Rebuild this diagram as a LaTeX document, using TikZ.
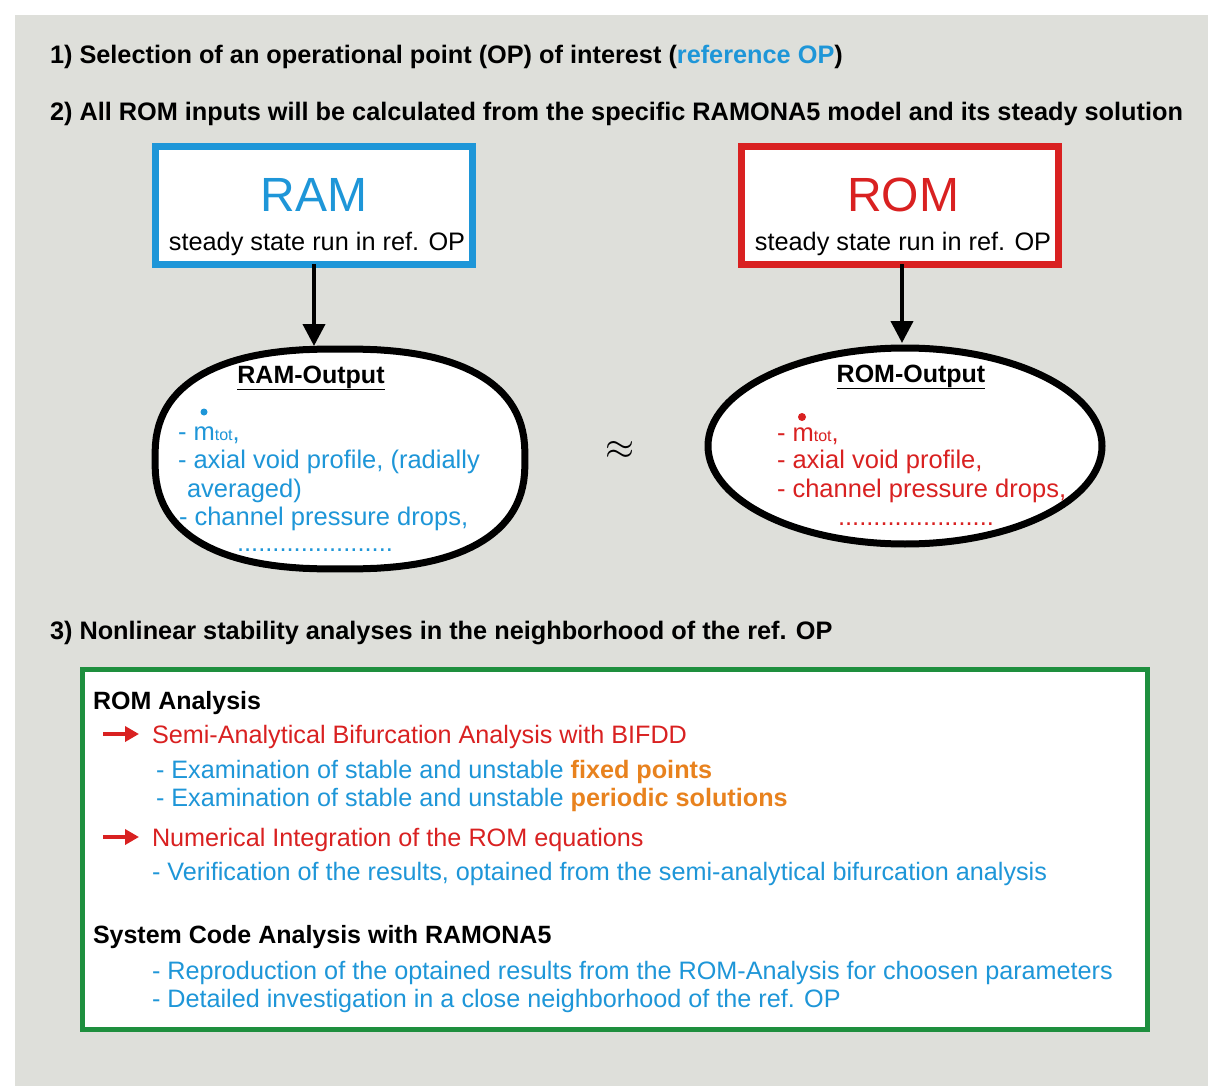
\documentclass[tikz,border=0pt]{standalone}
\usepackage{fontspec}
\setmainfont{Liberation Sans}
\usetikzlibrary{arrows.meta,shapes.geometric}
\definecolor{ramblue}{HTML}{1E96D8}
\definecolor{romred}{HTML}{D92121}
\definecolor{hlorange}{HTML}{E8821E}
\definecolor{boxgreen}{HTML}{1E8F3E}
\definecolor{panelgray}{HTML}{DEDFDA}
\newcommand{\fsz}[1]{\fontsize{#1}{#1}\selectfont}

\begin{document}
\begin{tikzpicture}[x=1pt,y=-1pt,
    every node/.style={inner sep=0pt,outer sep=0pt},
    heading/.style={anchor=base west,font=\fsz{25.3}\bfseries},
    codebox/.style={draw,line width=7pt,fill=white,minimum width=317pt,minimum height=118pt},
    outell/.style={ellipse,draw=black,line width=7pt,fill=white},
    outtxt/.style={anchor=base west,font=\fsz{25.5}},
    bodytxt/.style={anchor=base west,font=\fsz{25.2}},
    bullet/.style={romred,line width=3.5pt,-{Triangle[length=14pt,width=15pt]}}]
  \useasboundingbox (0,0) rectangle (1208,1086);
  \fill[panelgray] (15,15) rectangle (1208,1086);

  % steps
  \node[heading] (stepone) at (50,64) {1) Selection of an operational point (OP) of interest (\textcolor{ramblue}{reference OP})};
  \node[heading] (steptwo) at (50,121) {2) All ROM inputs will be calculated from the specific RAMONA5 model and its steady solution};
  \node[heading] (stepthree) at (50,639) {3) Nonlinear stability analyses in the neighborhood of the ref. OP};

  % code boxes
  \node[codebox,draw=ramblue] (rambox) at (314,205.5) {};
  \node[anchor=base,font=\fsz{48},ramblue] (ramtitle) at (314,212) {RAM};
  \node[anchor=base,font=\fsz{25.3}] (ramsub) at (317,251) {steady state run in ref. OP};
  \node[codebox,draw=romred] (rombox) at (900,205.5) {};
  \node[anchor=base,font=\fsz{48},romred] (romtitle) at (903,212) {ROM};
  \node[anchor=base,font=\fsz{25.3}] (romsub) at (903,251) {steady state run in ref. OP};

  % outputs (RAM one is a bit fuller than an ellipse)
  \draw[line width=7pt,fill=white] plot[domain=1.5:358.5,samples=120]
    ({340+185*sign(cos(\x))*abs(cos(\x))^0.8},{459+110*sign(sin(\x))*abs(sin(\x))^0.8}) -- cycle;
  \coordinate (ramtop) at (314,346);
  \node[outell,minimum width=394pt,minimum height=196pt] (romout) at (905,446) {};
  \draw[line width=4pt,-{Triangle[length=22pt,width=22pt]}] (rambox.south) -- (ramtop);
  \draw[line width=4pt,-{Triangle[length=22pt,width=22pt]}] (rombox.south -| 902,0) -- (902,343);

  \node[anchor=base,font=\fsz{25}\bfseries] (ramhead) at (311,383) {\underline{RAM-Output}};
  \node[outtxt,ramblue] (ramone) at (178,440) {- m{\fsz{16}tot},};
  \fill[ramblue] (204,412) circle (3.5pt);
  \node[outtxt,ramblue] (ramtwo) at (178,468) {- axial void profile, (radially};
  \node[outtxt,ramblue] (ramthree) at (187,497) {averaged)};
  \node[outtxt,ramblue] (ramfour) at (179,525) {- channel pressure drops,};
  \node[outtxt,ramblue] (ramdots) at (237,551) {......................};

  \node[anchor=base,font=\fsz{25}\bfseries] (romhead) at (911,382) {\underline{ROM-Output}};
  \node[outtxt,romred] (romone) at (777,441) {- m{\fsz{16}tot},};
  \fill[romred] (802,417) circle (4pt);
  \node[outtxt,romred] (romtwo) at (777,468) {- axial void profile,};
  \node[outtxt,romred] (romthree) at (777,497) {- channel pressure drops,};
  \node[outtxt,romred] (romdots) at (838,525) {......................};

  \node[font=\fsz{24},scale=1.5,transform shape] (approx) at (620,450) {$\approx$};

  % analysis box
  \node[draw=boxgreen,line width=5pt,fill=white,minimum width=1065pt,minimum height=360pt] (anabox) at (615,849.5) {};
  \node[bodytxt,font=\fsz{25}\bfseries] (romana) at (93,709) {ROM Analysis};
  \coordinate (bulone) at (103,734);
  \node[bodytxt,romred] (semi) at (152,743) {Semi-Analytical Bifurcation Analysis with BIFDD};
  \draw[bullet] (bulone) -- (bulone -| 139,0);
  \node[bodytxt,ramblue] (fixed) at (156,778) {- Examination of stable and unstable \textcolor{hlorange}{\bfseries fixed points}};
  \node[bodytxt,ramblue] (periodic) at (156,806) {- Examination of stable and unstable \textcolor{hlorange}{\bfseries periodic solutions}};
  \coordinate (bultwo) at (103,837);
  \node[bodytxt,romred] (numint) at (152,846) {Numerical Integration of the ROM equations};
  \draw[bullet] (bultwo) -- (bultwo -| 139,0);
  \node[bodytxt,ramblue] (verify) at (152,880) {- Verification of the results, optained from the semi-analytical bifurcation analysis};
  \node[bodytxt,font=\fsz{25}\bfseries] (sysana) at (93,943) {System Code Analysis with RAMONA5};
  \node[bodytxt,ramblue] (repro) at (152,979) {- Reproduction of the optained results from the ROM-Analysis for choosen parameters};
  \node[bodytxt,ramblue] (detail) at (152,1007) {- Detailed investigation in a close neighborhood of the ref. OP};
\end{tikzpicture}
\end{document}
